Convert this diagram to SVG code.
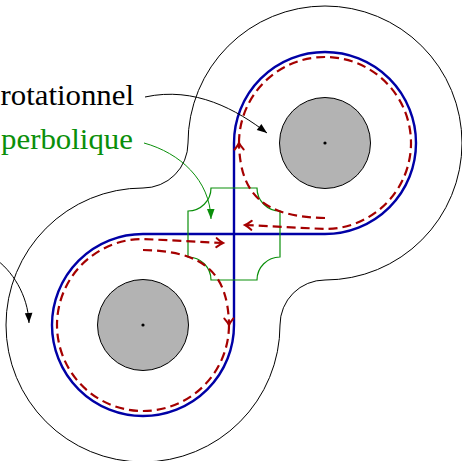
<svg xmlns="http://www.w3.org/2000/svg" width="462" height="461" viewBox="0 0 462 461">
<style>
.outer{fill:none;stroke:#000;stroke-width:1}
.blue{fill:none;stroke:#0000a6;stroke-width:2.4}
.green{fill:none;stroke:#0a8f0a;stroke-width:1.2}
.flow{fill:none;stroke:#a50000;stroke-width:2.2;stroke-dasharray:9 5}
.disk{fill:#b3b3b3;stroke:#000;stroke-width:1}
.dot{fill:#000}
.conn{fill:none;stroke-width:1}
</style>
<defs>
<marker id="flowArrow" viewBox="-8 -6 12 12" refX="0" refY="0" markerWidth="12" markerHeight="12" markerUnits="userSpaceOnUse" orient="auto">
<path d="M -6.5 -4.5 Q -2.5 -1.2 0 0 Q -2.5 1.2 -6.5 4.5" fill="none" stroke="#a50000" stroke-width="2" stroke-linecap="round"/>
</marker>
<marker id="blackHead" viewBox="-12 -6 14 12" refX="0" refY="0" markerWidth="14" markerHeight="12" markerUnits="userSpaceOnUse" orient="auto">
<path d="M -10 -3.8 L 0 0 L -10 3.8 Z" fill="#000"/>
</marker>
<marker id="greenHead" viewBox="-12 -6 14 12" refX="0" refY="0" markerWidth="14" markerHeight="12" markerUnits="userSpaceOnUse" orient="auto">
<path d="M -10 -3.8 L 0 0 L -10 3.8 Z" fill="#0a8f0a"/>
</marker>
</defs>

<g id="domain">
<path class="outer" d="M 188 143 A 137 137 0 1 1 325 280 A 45 45 0 0 0 280 325 A 137 137 0 1 1 143 188 A 45 45 0 0 0 188 143 Z"/>
</g>

<g id="separatrix">
<path class="blue" d="M 234 143 A 91 91 0 1 1 325 234 L 143 234 A 91 91 0 1 0 234 325 Z"/>
</g>

<g id="saddle-zone">
<path class="green" d="M 211 188 L 257 188 A 23 23 0 0 0 280 211 L 280 257 A 23 23 0 0 0 257 280 L 211 280 A 23 23 0 0 0 188 257 L 188 211 A 23 23 0 0 0 211 188 Z"/>
</g>

<g id="flow-upper">
<path class="flow" d="M 325 218 C 265 217 240 196 239 143" marker-end="url(#flowArrow)"/>
<path class="flow" d="M 239 143 A 86 86 0 1 1 325 229 L 245 225" marker-end="url(#flowArrow)"/>
</g>
<g id="flow-lower" transform="rotate(180 234 234)">
<path class="flow" d="M 325 218 C 265 217 240 196 239 143" marker-end="url(#flowArrow)"/>
<path class="flow" d="M 239 143 A 86 86 0 1 1 325 229 L 245 225" marker-end="url(#flowArrow)"/>
</g>

<g id="obstacle-upper">
<circle class="disk" cx="325" cy="143" r="45.5"/>
<circle class="dot" cx="325" cy="143" r="1.6"/>
</g>
<g id="obstacle-lower">
<circle class="disk" cx="143" cy="325" r="45.5"/>
<circle class="dot" cx="143" cy="325" r="1.6"/>
</g>

<g id="label-rotationnel">
<text x="0.5" y="105" font-family="'Liberation Serif', 'DejaVu Serif', serif" font-size="28.5" textLength="133.5" lengthAdjust="spacingAndGlyphs" fill="#000">rotationnel</text>
</g>
<g id="label-hyperbolique">
<text x="1" y="149" font-family="'Liberation Serif', 'DejaVu Serif', serif" font-size="28.5" textLength="132" lengthAdjust="spacingAndGlyphs" fill="#0a8f0a">perbolique</text>
</g>

<g id="connectors">
<path class="conn" stroke="#000" d="M 145 97 C 195 86 237 110 267 133" marker-end="url(#blackHead)"/>
<path class="conn" stroke="#0a8f0a" d="M 144 143 C 180 153 210 180 211 219" marker-end="url(#greenHead)"/>
<path class="conn" stroke="#000" d="M -6 258 C 12 270 28 295 29 323" marker-end="url(#blackHead)"/>
</g>
</svg>
